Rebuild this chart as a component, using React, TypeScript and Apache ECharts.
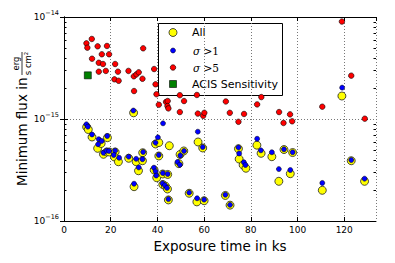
import React, { useEffect, useRef } from "react";
import * as echarts from "echarts";

// Flux values are in units of 1e-16 erg / (s cm^2); exposure in ks
const allPoints: number[][] = [
  [9.7, 8.35], [10.4, 7.89], [12.0, 6.66], [14.4, 5.16], [15.9, 5.75], [18.6, 6.56],
  [16.9, 4.51], [18.3, 4.75], [19.4, 4.75], [21.9, 4.75], [21.6, 4.24], [23.3, 3.81],
  [27.7, 4.12], [29.8, 11.5], [30.9, 3.81], [33.7, 4.67], [33.6, 3.9], [31.9, 3.11],
  [30.0, 2.17], [39.2, 5.69], [40.6, 5.88], [40.6, 4.34], [38.6, 3.16], [39.7, 2.66],
  [45.1, 5.47], [42.3, 2.89], [44.4, 2.86], [42.3, 2.28], [43.4, 2.2], [44.3, 2.06],
  [44.7, 1.61], [49.7, 4.49], [49.2, 3.65], [51.3, 4.86], [53.6, 1.87], [56.9, 1.54],
  [60.0, 1.58], [57.4, 5.95], [59.4, 5.2], [69.1, 1.78], [71.1, 1.43], [74.7, 5.11],
  [75.0, 4.05], [76.7, 3.54], [77.9, 3.29], [82.6, 5.54], [84.4, 4.61], [89.0, 4.27],
  [94.2, 5.02], [97.9, 4.69], [92.0, 2.45], [96.9, 2.91], [110.6, 2.0], [119.0, 16.8],
  [123.0, 3.9], [128.7, 2.45],
];

const sigma1Points: number[][] = [
  [9.6, 8.87], [10.2, 8.41], [12.0, 7.05], [14.9, 6.34], [16.1, 6.09], [14.6, 5.65],
  [18.5, 6.81], [16.9, 4.67], [18.2, 4.89], [19.3, 4.86], [21.9, 4.89], [21.3, 4.44],
  [23.6, 4.17], [27.7, 4.27], [29.7, 12.1], [30.9, 4.07], [33.9, 4.75], [33.6, 4.03],
  [32.0, 3.35], [30.0, 2.32], [39.2, 5.86], [40.2, 6.61], [40.6, 4.44], [38.5, 3.33],
  [39.2, 3.07], [39.5, 2.79], [42.4, 9.07], [42.3, 2.95], [44.4, 2.89], [42.2, 2.34],
  [43.2, 2.24], [44.1, 2.11], [44.7, 1.64], [49.8, 4.39], [48.6, 3.79], [49.6, 3.56],
  [51.4, 4.86], [53.6, 1.9], [57.0, 1.67], [60.0, 1.62], [57.3, 7.51], [59.4, 5.31],
  [69.1, 1.81], [71.1, 1.44], [74.7, 5.26], [75.0, 4.59], [77.0, 3.77], [77.7, 3.54],
  [82.7, 6.4], [84.3, 4.93], [89.0, 4.72], [94.2, 5.05], [97.9, 4.72], [92.0, 3.23],
  [96.9, 3.16], [110.6, 2.36], [119.1, 20.3], [123.0, 3.96], [128.7, 2.6],
];

const sigma5Points: number[][] = [
  [11.9, 60.9], [9.6, 55.2], [10.0, 50.0], [14.4, 51.6], [18.4, 52.0], [12.0, 39.0],
  [16.2, 43.1], [19.3, 43.1], [14.9, 35.6], [16.7, 34.6], [21.9, 34.6], [33.9, 49.3],
  [14.9, 29.1], [17.9, 29.6], [23.1, 29.1], [27.6, 29.6], [21.6, 24.5], [23.4, 23.7],
  [29.9, 26.2], [31.0, 27.4], [32.0, 28.7], [33.6, 24.8], [30.0, 18.8], [38.6, 30.9],
  [39.2, 21.9], [39.6, 17.5], [40.6, 13.8], [43.7, 14.7], [44.4, 15.0], [44.3, 13.4],
  [44.7, 12.7], [49.6, 17.1], [51.4, 15.0], [49.6, 11.7], [56.9, 17.2], [57.3, 11.3],
  [59.6, 10.75], [60.1, 11.5], [69.3, 14.85], [71.0, 11.5], [74.7, 9.39], [77.1, 11.2],
  [82.7, 13.9], [84.5, 16.4], [92.1, 11.7], [94.0, 9.14], [96.8, 11.1], [97.7, 9.49],
  [110.6, 13.2], [119.0, 90.3], [123.0, 26.6], [128.8, 10.07],
];

const acisPoints: number[][] = [[10.2, 26.8]];

const xTickValues = [0, 20, 40, 60, 80, 100, 120];
const yMinorTickValues = [2, 3, 4, 5, 6, 7, 8, 9, 20, 30, 40, 50, 60, 70, 80, 90];

const X_MIN = 0;
const X_MAX = 133.6;
const FONT = "DejaVu Sans";

export default function App() {
  const ref = useRef<HTMLDivElement>(null);

  useEffect(() => {
    if (!ref.current) return;
    const chart = echarts.init(ref.current, undefined, { renderer: "svg" });

    const axisLine = { show: true, lineStyle: { color: "#000", width: 1 } };
    const gridLine = { show: true, lineStyle: { color: "#777", width: 1, type: [1, 2] as any } };

    const option: any = {
      animation: false,
      backgroundColor: "#fff",
      grid: { left: 64, top: 17, width: 312, height: 204, containLabel: false },
      xAxis: [
        {
          type: "value", min: X_MIN, max: X_MAX, interval: 20, position: "bottom",
          axisLine, axisTick: { inside: true, length: 4, lineStyle: { color: "#000" } },
          axisLabel: {
            color: "#000", fontFamily: FONT, fontSize: 9, margin: 4, showMaxLabel: false,
            formatter: (v: number) => (xTickValues.includes(v) ? String(v) : ""),
          },
          splitLine: gridLine,
          name: "Exposure time in ks", nameLocation: "middle", nameGap: 17,
          nameTextStyle: { color: "#000", fontFamily: FONT, fontSize: 13.5 },
        },
        {
          type: "value", min: X_MIN, max: X_MAX, interval: 20, position: "top",
          axisLine, axisTick: { inside: true, length: 4, lineStyle: { color: "#000" } },
          axisLabel: { show: false }, splitLine: { show: false },
        },
      ],
      yAxis: [
        {
          type: "log", logBase: 10, min: 1, max: 100, position: "left",
          axisLine, axisTick: { inside: true, length: 4, lineStyle: { color: "#000" } },
          axisLabel: {
            color: "#000", margin: 5,
            formatter: (v: number) => {
              const e = Math.round(Math.log10(v)) - 16;
              return `{b|10}{s|${e < 0 ? "\u2212" + -e : e}}`;
            },
            rich: {
              b: { fontFamily: FONT, fontSize: 9, color: "#000", lineHeight: 16 },
              s: { fontFamily: FONT, fontSize: 6.5, color: "#000", lineHeight: 7, verticalAlign: "top" },
            },
          },
          splitLine: gridLine,
        },
        {
          type: "log", logBase: 10, min: 1, max: 100, position: "right",
          axisLine, axisTick: { inside: true, length: 4, lineStyle: { color: "#000" } },
          axisLabel: { show: false }, splitLine: { show: false },
        },
      ],
      series: [
        {
          type: "custom", name: "minor", silent: true, xAxisIndex: 0, yAxisIndex: 0, clip: false,
          data: yMinorTickValues.map((v) => [X_MIN, v]),
          renderItem: (params: any, api: any) => {
            const p = api.coord([X_MIN, api.value(1)]);
            const q = api.coord([X_MAX, api.value(1)]);
            const y = Math.round(p[1]) + 0.5;
            return {
              type: "group",
              children: [
                { type: "line", shape: { x1: p[0], y1: y, x2: p[0] + 2.5, y2: y }, style: { stroke: "#000", lineWidth: 1 } },
                { type: "line", shape: { x1: q[0] - 2.5, y1: y, x2: q[0], y2: y }, style: { stroke: "#000", lineWidth: 1 } },
              ],
            };
          },
        },
        {
          type: "scatter", name: "All", data: allPoints, symbol: "circle", symbolSize: 8,
          itemStyle: { color: "#ffff00", borderColor: "#222", borderWidth: 0.8, opacity: 1 },
        },
        {
          type: "scatter", name: "σ >1", data: sigma1Points, symbol: "circle", symbolSize: 5,
          itemStyle: { color: "#0000ff", borderColor: "#000", borderWidth: 0.5, opacity: 1 },
        },
        {
          type: "scatter", name: "σ >5", data: sigma5Points, symbol: "circle", symbolSize: 5.5,
          itemStyle: { color: "#ff0000", borderColor: "#000", borderWidth: 0.6, opacity: 1 },
        },
        {
          type: "scatter", name: "ACIS Sensitivity", data: acisPoints, symbol: "rect", symbolSize: 7,
          itemStyle: { color: "#008000", borderColor: "#000", borderWidth: 0.6, opacity: 1 },
        },
      ],
      graphic: [
        {
          type: "group", x: 22, y: 119, rotation: Math.PI / 2, z: 100,
          children: [
            {
              type: "text", x: 41.5, y: 0,
              style: { text: "Minimum flux in", font: `13.5px ${FONT}`, fill: "#000", align: "right", verticalAlign: "middle", textAlign: "right", textVerticalAlign: "middle" },
            },
            {
              type: "text", x: 55.5, y: -6,
              style: { text: "erg", font: `8.5px ${FONT}`, fill: "#000", align: "center", verticalAlign: "middle", textAlign: "center", textVerticalAlign: "middle" },
            },
            { type: "line", shape: { x1: 44, y1: 0, x2: 67, y2: 0 }, style: { stroke: "#000", lineWidth: 0.8 } },
            {
              type: "text", x: 55.5, y: 6,
              style: { text: "s cm\u00b2", font: `8.5px ${FONT}`, fill: "#000", align: "center", verticalAlign: "middle", textAlign: "center", textVerticalAlign: "middle" },
            },
          ],
        },
        {
          type: "group", z: 100,
          children: [
            { type: "rect", shape: { x: 158.5, y: 23.5, width: 124, height: 72 }, style: { fill: "#fff", stroke: "#000", lineWidth: 1 } },
            { type: "circle", shape: { cx: 173, cy: 32.5, r: 4 }, style: { fill: "#ffff00", stroke: "#222", lineWidth: 0.8 } },
            { type: "circle", shape: { cx: 173, cy: 50.5, r: 2.5 }, style: { fill: "#0000ff", stroke: "#000", lineWidth: 0.5 } },
            { type: "circle", shape: { cx: 173, cy: 67.5, r: 2.75 }, style: { fill: "#ff0000", stroke: "#000", lineWidth: 0.6 } },
            { type: "rect", shape: { x: 169.5, y: 80.5, width: 7, height: 7 }, style: { fill: "#008000", stroke: "#000", lineWidth: 0.6 } },
            {
              type: "text", x: 192, y: 32.5,
              style: { text: "All", font: `11px ${FONT}`, fill: "#000", align: "left", verticalAlign: "middle", textAlign: "left", textVerticalAlign: "middle" },
            },
            {
              type: "text", x: 193, y: 50.5,
              style: {
                text: "{s|σ}{t| >1}", fill: "#000", align: "left", verticalAlign: "middle", textAlign: "left", textVerticalAlign: "middle",
                rich: {
                  s: { fontFamily: "DejaVu Serif", fontStyle: "italic", fontSize: 10.5, fill: "#000" },
                  t: { fontFamily: "DejaVu Serif", fontSize: 10.5, fill: "#000" },
                },
              },
            },
            {
              type: "text", x: 193, y: 67.5,
              style: {
                text: "{s|σ}{t| >5}", fill: "#000", align: "left", verticalAlign: "middle", textAlign: "left", textVerticalAlign: "middle",
                rich: {
                  s: { fontFamily: "DejaVu Serif", fontStyle: "italic", fontSize: 10.5, fill: "#000" },
                  t: { fontFamily: "DejaVu Serif", fontSize: 10.5, fill: "#000" },
                },
              },
            },
            {
              type: "text", x: 192, y: 84,
              style: { text: "ACIS Sensitivity", font: `11px ${FONT}`, fill: "#000", align: "left", verticalAlign: "middle", textAlign: "left", textVerticalAlign: "middle" },
            },
          ],
        },
      ],
    };

    chart.setOption(option);
    return () => chart.dispose();
  }, []);

  return <div ref={ref} style={{ width: 395, height: 263, position: "absolute", left: 0, top: 0 }} />;
}
